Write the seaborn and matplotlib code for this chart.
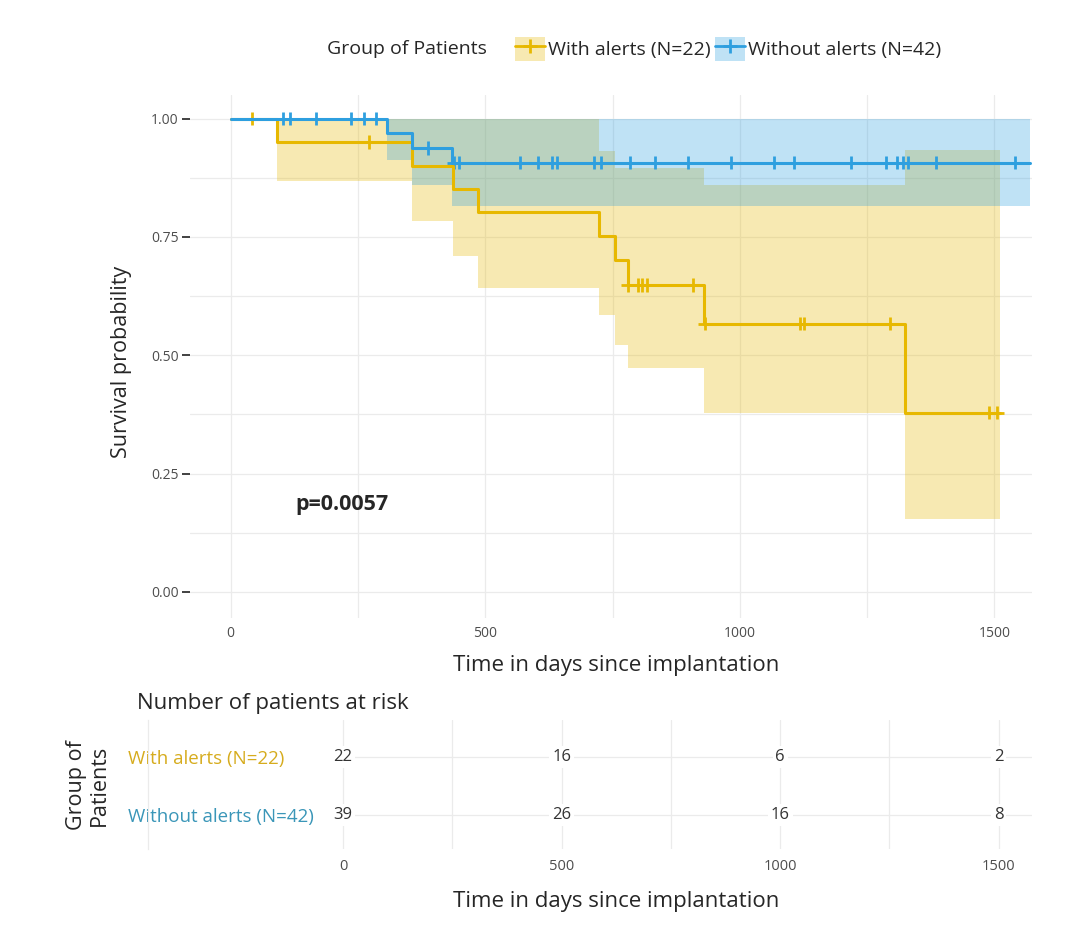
import numpy as np
import pandas as pd
import matplotlib
matplotlib.use('Agg')
import matplotlib.pyplot as plt
import seaborn as sns
from matplotlib.patches import Patch
from matplotlib.lines import Line2D


# groups and colours
groups = ['With alerts (N=22)', 'Without alerts (N=42)']
colors = ['#E7B800', '#2E9FDF']
label_colors = ['#D6AC1E', '#3A96B8']

# Kaplan-Meier steps, group with alerts
with_time = [0, 90, 356, 436, 485, 723, 755, 780, 929, 1324, 1512]
with_surv = [1.0, 0.951, 0.900, 0.851, 0.802, 0.753, 0.702, 0.649, 0.567, 0.379, 0.379]
with_lower = [1.0, 0.869, 0.783, 0.710, 0.643, 0.586, 0.522, 0.474, 0.378, 0.154, 0.154]
with_upper = [1.0, 1.0, 1.0, 1.0, 1.0, 0.931, 0.896, 0.896, 0.860, 0.934, 0.934]
with_censor = [42, 271, 780, 801, 808, 817, 909, 931, 1118, 1127, 1295, 1490, 1506]

# Kaplan-Meier steps, group without alerts
without_time = [0, 307, 357, 435, 1570]
without_surv = [1.0, 0.970, 0.938, 0.907, 0.907]
without_lower = [1.0, 0.913, 0.860, 0.815, 0.815]
without_upper = [1.0, 1.0, 1.0, 1.0, 1.0]
without_censor = [102, 116, 168, 236, 262, 285, 388, 439, 449, 569, 604, 631, 641,
                  714, 728, 785, 833, 898, 983, 1067, 1106, 1218, 1288, 1309, 1320,
                  1330, 1385, 1540]

# number at risk table
risk_time = [0, 500, 1000, 1500]
risk_with = [22, 16, 6, 2]
risk_without = [39, 26, 16, 8]

p_text = 'p=0.0057'


def surv_at(times, surv, t):
    idx = np.searchsorted(times, t, side='right') - 1
    return np.asarray(surv)[idx]


curves = pd.concat([
    pd.DataFrame({'time': with_time, 'surv': with_surv, 'group': groups[0]}),
    pd.DataFrame({'time': without_time, 'surv': without_surv, 'group': groups[1]}),
])
censors = pd.concat([
    pd.DataFrame({'time': with_censor,
                  'surv': surv_at(with_time, with_surv, with_censor),
                  'group': groups[0]}),
    pd.DataFrame({'time': without_censor,
                  'surv': surv_at(without_time, without_surv, without_censor),
                  'group': groups[1]}),
])
bands = [(with_time, with_lower, with_upper), (without_time, without_lower, without_upper)]

sns.set_theme(style='white')
plt.rcParams['font.family'] = ['Open Sans', 'DejaVu Sans']

W, H = 1081, 943
fig = plt.figure(figsize=(W / 100, H / 100), dpi=100)

# ---------------- survival curves
ax = fig.add_axes([190 / W, 1 - 618 / H, 842 / W, 523 / H])
ax.set_xticks([0, 500, 1000, 1500])
ax.set_xticks([250, 750, 1250], minor=True)
ax.set_yticks([0, 0.25, 0.5, 0.75, 1.0])
ax.set_yticks([0.125, 0.375, 0.625, 0.875], minor=True)
ax.grid(which='both', color='#EBEBEB', linewidth=0.9)
ax.set_axisbelow(True)

for (t, lo, up), c in zip(bands, colors):
    ax.fill_between(t, lo, up, step='post', color=c, alpha=0.3, linewidth=0)

sns.lineplot(data=curves, x='time', y='surv', hue='group', hue_order=groups,
             palette=colors, drawstyle='steps-post', linewidth=2.2,
             estimator=None, sort=False, legend=False, ax=ax)
sns.scatterplot(data=censors, x='time', y='surv', hue='group', hue_order=groups,
                palette=colors, marker='+', s=95, linewidth=2, legend=False, ax=ax)

ax.set_xlim(-80, 1574)
ax.set_ylim(-0.055, 1.05)
ax.set_yticklabels(['0.00', '0.25', '0.50', '0.75', '1.00'])
ax.tick_params(axis='y', which='major', length=6, width=1.3, color='#333333',
               pad=2, labelsize=10, labelcolor='#4D4D4D', left=True)
ax.tick_params(axis='x', which='major', length=0, pad=6, labelsize=10,
               labelcolor='#4D4D4D')
ax.tick_params(which='minor', length=0)
ax.set_xlabel('')
ax.set_ylabel('')
for s in ax.spines.values():
    s.set_visible(False)

ax.text(127, 0.184, p_text, fontsize=15.5, fontweight='bold', ha='left', va='center')

fig.text(121 / W, 1 - 362 / H, 'Survival probability', fontsize=15.5,
         rotation=90, ha='center', va='center')
fig.text(616 / W, 1 - 665 / H, 'Time in days since implantation', fontsize=16,
         ha='center', va='center')

# legend on top
fig.text(327 / W, 1 - 49 / H, 'Group of Patients', fontsize=14, ha='left', va='center')
handles = [(Patch(facecolor=c, alpha=0.3, edgecolor='none'),
            Line2D([], [], color=c, marker='+', lw=2, ms=10, mew=2)) for c in colors]
fig.legend(handles, groups, loc='center left', bbox_to_anchor=(515 / W, 1 - 49 / H),
           ncol=2, frameon=False, fontsize=14, handlelength=1.55, handleheight=1.6,
           handletextpad=0.15, columnspacing=0.2, borderpad=0, borderaxespad=0)

# ---------------- risk table
axt = fig.add_axes([148 / W, 1 - 849 / H, 884 / W, 129 / H])
axt.set_xlim(-446, 1576)
axt.set_ylim(0.42, 2.63)
axt.set_xticks(risk_time)
axt.set_xticks([250, 750, 1250], minor=True)
axt.grid(axis='x', which='both', color='#EBEBEB', linewidth=0.9)
axt.set_axisbelow(True)
row_pos = [2, 1]
axt.hlines(row_pos, 0, axt.get_xlim()[1], color='#EBEBEB', linewidth=0.9, zorder=0)

for y, counts in zip(row_pos, [risk_with, risk_without]):
    for t, n in zip(risk_time, counts):
        axt.text(t, y, str(n), fontsize=12, color='#333333', ha='center', va='center',
                 bbox=dict(facecolor='white', edgecolor='none', pad=2))

axt.set_yticks(row_pos)
axt.set_yticklabels(groups, fontsize=13.5)
for lbl, c in zip(axt.get_yticklabels(), label_colors):
    lbl.set_color(c)
    lbl.set_horizontalalignment('left')
axt.tick_params(axis='y', length=0, pad=14.4)
axt.tick_params(axis='x', which='both', length=0, pad=7, labelsize=10.5,
                labelcolor='#4D4D4D')
for name, s in axt.spines.items():
    s.set_visible(name == 'left')
axt.spines['left'].set_color('#EBEBEB')
axt.spines['left'].set_linewidth(0.9)

fig.text(137 / W, 1 - 704 / H, 'Number of patients at risk', fontsize=16,
         ha='left', va='center')
fig.text(88 / W, 1 - 785 / H, 'Group of\nPatients', fontsize=15.5, rotation=90,
         ha='center', va='center', linespacing=1.15)
fig.text(616 / W, 1 - 901 / H, 'Time in days since implantation', fontsize=16,
         ha='center', va='center')

fig.savefig('out.png', dpi=100)
